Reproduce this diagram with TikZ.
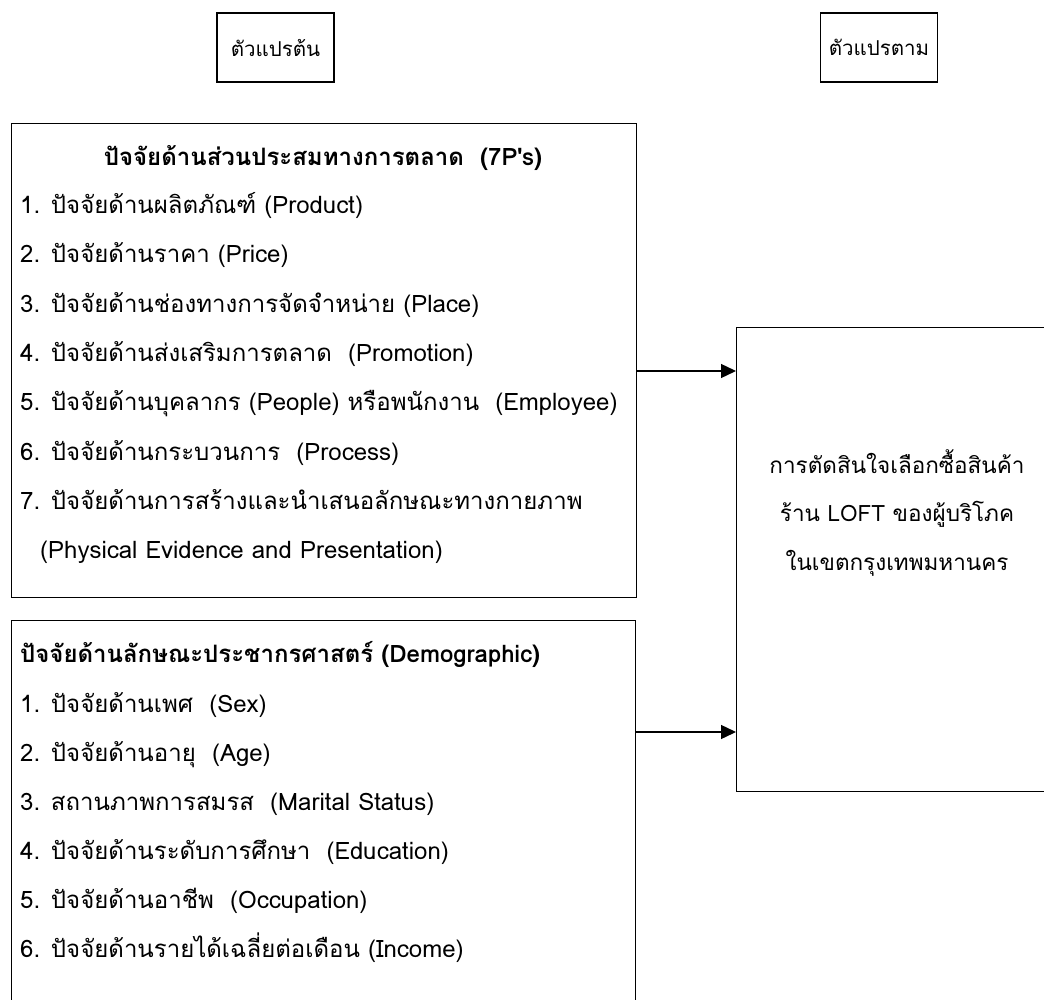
\documentclass[tikz,border=0pt]{standalone}
\usepackage{fontspec}
\setmainfont[Script=Thai]{Loma}
\usetikzlibrary{arrows.meta, positioning}
\tikzset{
	varbox/.style={draw, line width=1.4pt, minimum width=117pt, minimum height=69pt, font=\fontsize{20.5}{24}\selectfont},
	bigbox/.style={draw, line width=1.4pt, anchor=north west, inner sep=0pt},
	item/.style={anchor=west, inner sep=0pt, text height=18pt, text depth=7pt, font=\fontsize{24}{28}\selectfont},
	arrow/.style={-{Triangle[length=15pt,width=14pt]}, line width=1.4pt},
}

\begin{document}
\begin{tikzpicture}[x=1pt, y=-1pt]
	\useasboundingbox (0,0) rectangle (1044,1000);

	% Headings
	\node[varbox] (iv) at (275.5,47.5) {ตัวแปรต้น};
	\node[varbox] (dv) at (879,47.5) {ตัวแปรตาม};

	% Boxes
	\node[bigbox, minimum width=625pt, minimum height=474pt] (mix) at (11,123) {};
	\node[bigbox, minimum width=624pt, minimum height=400pt] (demo) at (11,620) {};
	\node[bigbox, minimum width=330pt, minimum height=464pt] (dec) at (736,327) {};

	% Marketing mix
	\node[item, anchor=center, font=\fontsize{24}{28}\bfseries] (mixtitle) at (323,160) {ปัจจัยด้านส่วนประสมทางการตลาด~ (7P\textquotesingle s)};
	\foreach \txt [count=\i from 0] in {
		1. ปัจจัยด้านผลิตภัณฑ์ (Product),
		2. ปัจจัยด้านราคา (Price),
		3. ปัจจัยด้านช่องทางการจัดจำหน่าย (Place),
		4. ปัจจัยด้านส่งเสริมการตลาด~ (Promotion),
		5. ปัจจัยด้านบุคลากร (People) หรือพนักงาน~ (Employee),
		6. ปัจจัยด้านกระบวนการ~ (Process),
		7. ปัจจัยด้านการสร้างและนำเสนอลักษณะทางกายภาพ,
		\hspace*{20pt}(Physical Evidence and Presentation)}
		\node[item] (mix\i) at (20,208+49.3*\i) {\txt};

	% Demographic
	\node[item, font=\fontsize{24}{28}\bfseries] (demotitle) at (20,657) {ปัจจัยด้านลักษณะประชากรศาสตร์ (Demographic)};
	\foreach \txt [count=\i from 0] in {
		1. ปัจจัยด้านเพศ~ (Sex),
		2. ปัจจัยด้านอายุ~ (Age),
		3. สถานภาพการสมรส~ (Marital Status),
		4. ปัจจัยด้านระดับการศึกษา~ (Education),
		5. ปัจจัยด้านอาชีพ~ (Occupation),
		6. ปัจจัยด้านรายได้เฉลี่ยต่อเดือน (Income)}
		\node[item] (demo\i) at (20,707+49*\i) {\txt};

	% Dependent variable
	\node[align=center, font=\fontsize{22.5}{48.5}\selectfont] (dectext) at (897,513) {การตัดสินใจเลือกซื้อสินค้า\\ร้าน LOFT ของผู้บริโภค\\ในเขตกรุงเทพมหานคร};

	% Arrows
	\coordinate (a1) at (0,371);
	\coordinate (a2) at (0,732);
	\draw[arrow] (mix.east |- a1) -- (dec.west |- a1);
	\draw[arrow] (demo.east |- a2) -- (dec.west |- a2);
\end{tikzpicture}
\end{document}
